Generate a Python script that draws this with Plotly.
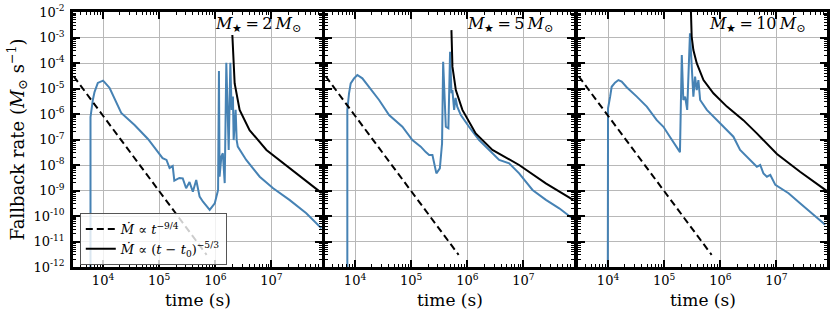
import plotly.graph_objects as go
from plotly.subplots import make_subplots

# ---------------- data ----------------
# Panel 1 : M* = 2 Msun
t_sim_2 = [5.98e3, 5.98e3, 6.58e3, 7.05e3, 8.07e3, 9.29e3, 1.0e4, 1.06e4, 1.31e4, 2.11e4,
           3.64e4, 6.31e4, 1.02e5, 1.15e5, 1.35e5, 1.53e5, 1.74e5, 1.86e5, 2.29e5, 2.63e5,
           3.02e5, 3.47e5, 3.98e5, 4.57e5, 5.25e5, 6.03e5, 7.94e5, 9.77e5, 1.12e6, 1.16e6,
           1.19e6, 1.28e6, 1.36e6, 1.47e6, 1.57e6, 1.66e6, 1.73e6, 1.85e6, 1.95e6, 2.06e6,
           2.12e6, 2.30e6, 2.40e6, 2.51e6, 3.55e6, 6.17e6, 1.07e7, 2.09e7, 4.17e7, 7.76e7]
mdot_sim_2 = [3e-13, 7.6e-7, 3.55e-6, 7.2e-6, 1.66e-5, 1.86e-5, 2.04e-5, 1.78e-5, 1.05e-5, 1.1e-6,
              3.7e-7, 1.05e-7, 2.45e-8, 1.86e-8, 1.58e-8, 7.6e-9, 9.1e-9, 2.45e-9, 3.1e-9, 3.0e-9,
              1.23e-9, 2.14e-9, 8.9e-10, 2.57e-9, 5.75e-10, 3.63e-10, 1.74e-10, 3.16e-10, 1.05e-9, 4.9e-5,
              3.47e-9, 2.14e-8, 2.9e-8, 1.95e-9, 1.02e-4, 5.75e-7, 3.9e-8, 1.02e-4, 1.45e-6, 4.8e-6,
              9.5e-8, 1.45e-6, 9.5e-8, 5.25e-8, 1.58e-8, 3.47e-9, 1.23e-9, 4.27e-10, 1.29e-10, 3.3e-11]
t_fit_2 = [2.01e6, 2.06e6, 2.21e6, 2.71e6, 4.07e6, 8.13e6, 2.09e7, 7.85e7]
mdot_fit_2 = [1.26e-3, 3.2e-4, 1.58e-5, 1.45e-6, 2.34e-7, 3.9e-8, 7.6e-9, 7.9e-10]

# Panel 2 : M* = 5 Msun
t_sim_5 = [7.29e3, 7.29e3, 7.82e3, 8.37e3, 9.6e3, 1.1e4, 1.35e4, 1.78e4, 2.68e4, 4.04e4,
           6.97e4, 1.05e5, 1.48e5, 1.82e5, 2.09e5, 2.39e5, 2.56e5, 2.81e5, 3.24e5, 3.55e5,
           3.71e5, 3.94e5, 4.14e5, 4.6e5, 4.93e5, 5.21e5, 5.42e5, 5.82e5, 6.17e5, 6.61e5,
           7.66e5, 1.07e6, 1.62e6, 2.45e6, 3.69e6, 5.56e6, 8.37e6, 1.45e7, 2.51e7, 4.33e7, 7.69e7]
mdot_sim_5 = [3e-13, 1.45e-6, 6.5e-6, 1.58e-5, 2.5e-5, 3.4e-5, 2.5e-5, 1.17e-5, 3.55e-6, 9.1e-7,
              3.16e-7, 9.5e-8, 5.25e-8, 3.2e-8, 2.45e-8, 2.45e-8, 1.17e-8, 4.7e-9, 7.4e-9, 7.1e-8,
              1.12e-4, 1.45e-6, 3.16e-7, 2.75e-7, 2.75e-4, 6.5e-6, 8.7e-6, 1.45e-6, 4.27e-6, 1.95e-6,
              9.1e-7, 3.16e-7, 9.5e-8, 3.9e-8, 1.58e-8, 1.17e-8, 4.7e-9, 1.05e-9, 4.27e-10, 2.0e-10, 7.6e-11]
t_fit_5 = [5.21e5, 5.43e5, 6.24e5, 8.17e5, 1.41e6, 2.8e6, 8.37e6, 2.5e7, 7.67e7]
mdot_fit_5 = [1.95e-3, 7.2e-5, 8.7e-6, 1.45e-6, 1.74e-7, 3.9e-8, 1.0e-8, 1.9e-9, 4.27e-10]

# Panel 3 : M* = 10 Msun
t_sim_10 = [9.9e3, 1.0e4, 1.09e4, 1.16e4, 1.33e4, 1.53e4, 1.75e4, 2.15e4, 3.25e4, 4.9e4,
            7.38e4, 9.7e4, 1.27e5, 1.62e5, 1.91e5, 2.06e5, 2.19e5, 2.36e5, 2.57e5, 2.88e5,
            3.09e5, 3.31e5, 3.55e5, 3.8e5, 4.07e5, 4.37e5, 5.75e5, 8.7e5, 1.31e6, 1.71e6,
            2.25e6, 2.95e6, 3.63e6, 4.47e6, 5.13e6, 5.86e6, 6.76e6, 7.76e6, 9.55e6, 1.16e7,
            1.64e7, 2.63e7, 4.57e7, 7.38e7]
mdot_sim_10 = [3e-13, 1.66e-6, 4.8e-6, 1.17e-5, 1.7e-5, 2.14e-5, 1.86e-5, 1.12e-5, 4.8e-6, 1.95e-6,
               5.75e-7, 3.16e-7, 1.26e-7, 5.6e-8, 3.2e-8, 2.04e-4, 3.55e-6, 4.8e-6, 1.45e-6, 1.45e-3,
               5.4e-5, 4.8e-6, 2.9e-5, 8.7e-6, 2.14e-5, 3.55e-6, 1.45e-6, 5.75e-7, 2.34e-7, 1.29e-7,
               3.9e-8, 2.14e-8, 1.35e-8, 8.5e-9, 1.0e-8, 4.7e-9, 3.47e-9, 4.07e-9, 1.66e-9, 1.23e-9,
               7.8e-10, 3.16e-10, 1.1e-10, 4.5e-11]
t_fit_10 = [2.95e5, 3.09e5, 3.31e5, 3.8e5, 5.01e5, 7.53e5, 1.31e6, 2.57e6, 4.47e6, 1.02e7, 2.63e7, 7.94e7]
mdot_fit_10 = [3.2e-2, 1.07e-3, 3.2e-4, 9.8e-5, 2.14e-5, 6.5e-6, 1.95e-6, 5.75e-7, 1.74e-7, 2.7e-8, 5.4e-9, 9.5e-10]

# reference power law t^-9/4 (same in every panel)
t_pl = [3.0e3, 7.0e5]
mdot_pl = [3.0e-5, 3.0e-12]

panel_labels = ["2", "5", "10"]
y_tickvals = [1e-12, 1e-11, 1e-10, 1e-9, 1e-8, 1e-7, 1e-6, 1e-5, 1e-4, 1e-3, 1e-2]
y_ticktext = ["10<sup>-12</sup>", "10<sup>-11</sup>", "10<sup>-10</sup>", "10<sup>-9</sup>",
              "10<sup>-8</sup>", "10<sup>-7</sup>", "10<sup>-6</sup>", "10<sup>-5</sup>",
              "10<sup>-4</sup>", "10<sup>-3</sup>", "10<sup>-2</sup>"]
x_tickvals = [1e4, 1e5, 1e6, 1e7]
x_ticktext = ["10<sup>4</sup>", "10<sup>5</sup>", "10<sup>6</sup>", "10<sup>7</sup>"]

# ---------------- figure ----------------
FONT = "DejaVu Serif"
BLUE = "#4682b4"
fig = make_subplots(rows=1, cols=3)

sims = [(t_sim_2, mdot_sim_2, t_fit_2, mdot_fit_2),
        (t_sim_5, mdot_sim_5, t_fit_5, mdot_fit_5),
        (t_sim_10, mdot_sim_10, t_fit_10, mdot_fit_10)]

for i, (ts, ms, tf, mf) in enumerate(sims):
    col = i + 1
    fig.add_trace(go.Scatter(x=ts, y=ms, mode="lines", line=dict(color=BLUE, width=2),
                             showlegend=False), row=1, col=col)
    fig.add_trace(go.Scatter(x=t_pl, y=mdot_pl, mode="lines",
                             line=dict(color="black", width=2, dash="7px,4px"),
                             name="<i>Ṁ</i> ∝ <i>t</i><sup>−9/4</sup>",
                             showlegend=(i == 0), legendrank=1), row=1, col=col)
    fig.add_trace(go.Scatter(x=tf, y=mf, mode="lines", line=dict(color="black", width=2),
                             name="<i>Ṁ</i> ∝ (<i>t</i> − <i>t</i><sub>0</sub>)<sup>−5/3</sup>",
                             showlegend=(i == 0), legendrank=2), row=1, col=col)

W_TOTAL = 754.0
domains = [[0.0, 249 / W_TOTAL], [252 / W_TOTAL, 501 / W_TOTAL], [505 / W_TOTAL, 1.0]]

axis_common = dict(
    type="log", showline=True, linecolor="black", linewidth=2.5, mirror="ticks",
    ticks="inside", ticklen=7, tickwidth=1.5, tickcolor="black",
    showgrid=True, gridcolor="#b8b8b8", gridwidth=1, zeroline=False, automargin=False,
    minor=dict(ticks="inside", ticklen=3.5, tickwidth=1, tickcolor="black",
               dtick="D1", showgrid=False),
    tickfont=dict(family=FONT, size=13, color="black"),
)

for i in range(3):
    xa = "xaxis" if i == 0 else f"xaxis{i+1}"
    ya = "yaxis" if i == 0 else f"yaxis{i+1}"
    fig.layout[xa].update(
        domain=domains[i], range=[3.465, 7.90],
        tickmode="array", tickvals=x_tickvals, ticktext=x_ticktext,
        ticklabelstandoff=0, **axis_common)
    fig.layout[ya].update(
        range=[-12, -2], tickmode="array", tickvals=y_tickvals, ticktext=y_ticktext,
        showticklabels=(i == 0), ticklabelstandoff=3, **axis_common)
    sfx = "" if i == 0 else str(i + 1)
    fig.add_annotation(
        xref=f"x{sfx} domain", yref=f"y{sfx} domain",
        x=1, y=1, xanchor="right", yanchor="top", xshift=-19, yshift=0,
        text=f"<i>M</i><sub>★</sub>\u2009=\u2009{panel_labels[i]}\u2009<i>M</i><sub>⊙</sub>",
        showarrow=False, font=dict(family=FONT, size=16, color="black"))
    fig.add_annotation(
        xref=f"x{sfx} domain", yref="paper", x=0.5, y=0, xanchor="center",
        yanchor="middle", yshift=-33, text="time (s)", showarrow=False,
        font=dict(family=FONT, size=17, color="black"))

fig.layout.yaxis.update(title=dict(
    text="Fallback rate (<i>M</i><sub>⊙</sub> s<sup>−1</sup>)",
    font=dict(family=FONT, size=18, color="black"), standoff=5))

fig.update_layout(
    width=831, height=313,
    margin=dict(l=73, r=4, t=12, b=46),
    plot_bgcolor="white", paper_bgcolor="white",
    font=dict(family=FONT, color="black"),
    legend=dict(x=0.009, y=0.212, xanchor="left", yanchor="top",
                bgcolor="rgba(255,255,255,0.8)", bordercolor="#555", borderwidth=1,
                font=dict(family=FONT, size=13, color="black"), tracegroupgap=0,
                itemwidth=30, traceorder="normal"),
)

fig.write_html("out.html", config={"displayModeBar": False},
               post_script="document.body.style.margin='0px';document.body.style.padding='0px';")
